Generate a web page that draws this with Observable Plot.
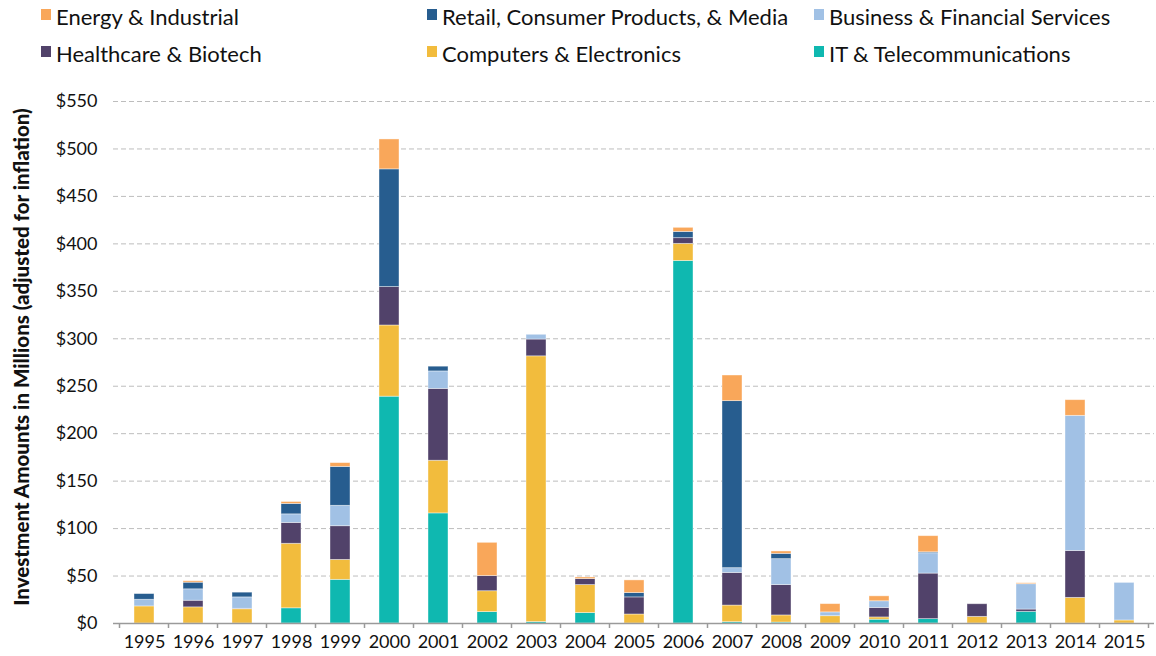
<!DOCTYPE html>
<html>
<head>
<meta charset="utf-8">
<script src="https://cdn.jsdelivr.net/npm/d3@7"></script>
<script src="https://cdn.jsdelivr.net/npm/@observablehq/plot@0.6"></script>
<style>
  body { margin: 0; background: #fff; font-family: Lato, "Open Sans", sans-serif; }
  #legend { position: relative; width: 1156px; height: 80px; }
  .li { position: absolute; font-size: 22px; color: #111; white-space: nowrap; line-height: 26px; }
  .sw { position: absolute; width: 10px; height: 11px; left: -15px; top: 5px; }
</style>
</head>
<body>
<div id="legend"></div>
<div id="chart"></div>
<script>
const years = ["1995","1996","1997","1998","1999","2000","2001","2002","2003","2004","2005","2006","2007","2008","2009","2010","2011","2012","2013","2014","2015"];
const categories = ["IT & Telecommunications","Computers & Electronics","Healthcare & Biotech","Business & Financial Services","Retail, Consumer Products, & Media","Energy & Industrial"];
const colors = ["#0FB8B0","#F2BC3D","#51426A","#A1C1E5","#275D8F","#F9A75A"];
const itTelecom   = [0,0,0,16,46,239,116,12,1.5,11,0,382,1.4,1,0,4,4.6,0,12.3,0,0];
const computers   = [18,17,15,68,21,75,55.5,22,280,29.5,9.5,18,17.5,7.5,7.7,2.4,0,7,0,27,3.2];
const healthcare  = [0,7,0.5,22,35.5,40.5,75.7,16,17.7,6.3,18,6,34.4,32,0,10,48,13.3,2.4,49.4,0];
const business    = [7,12,12,9,21.5,0,18.4,0,5,0,0,0,5,27.3,4,7,21.4,0,26.7,142.4,39.6];
const retail      = [6,7,5,11,41,124,5,0,0,0,4.6,6.6,176,5.6,0,0,1,0,0,0,0];
const energy      = [0,1.5,0,2,4,31.5,0,35,0,1.7,13.3,4.3,27,2.5,8.7,5.2,17,0,1,16.5,0];
const yTicks = [0,50,100,150,200,250,300,350,400,450,500,550];
const yLabel = "Investment Amounts in Millions (adjusted for inflation)";

const series = [itTelecom, computers, healthcare, business, retail, energy];
const rows = [];
years.forEach((y, i) => categories.forEach((c, k) => rows.push({year: y, category: c, value: series[k][i]})));

// legend
const legendOrder = [
  ["Energy & Industrial", 56, 4], ["Retail, Consumer Products, & Media", 442, 4], ["Business & Financial Services", 829, 4],
  ["Healthcare & Biotech", 56, 41], ["Computers & Electronics", 442, 41], ["IT & Telecommunications", 829, 41]
];
const leg = document.getElementById("legend");
legendOrder.forEach(([name, x, y]) => {
  const d = document.createElement("div");
  d.className = "li"; d.style.left = x + "px"; d.style.top = y + "px";
  const s = document.createElement("span");
  s.className = "sw"; s.style.background = colors[categories.indexOf(name)];
  d.appendChild(s); d.appendChild(document.createTextNode(name));
  leg.appendChild(d);
});

const plot = Plot.plot({
  width: 1156,
  height: 576,
  marginLeft: 113,
  marginRight: 2,
  marginTop: 21,
  marginBottom: 33,
  style: {fontFamily: "Lato, 'Open Sans', sans-serif", fontSize: "18px", color: "#111", background: "#fff"},
  x: {domain: years, paddingInner: 0.6, paddingOuter: 0.3, label: null},
  y: {domain: [0, 550], label: null},
  color: {domain: categories, range: colors},
  marks: [
    Plot.gridY(yTicks.filter(d => d > 0), {stroke: "#bdbdbd", strokeOpacity: 1, strokeDasharray: "5,3"}),
    Plot.axisY(yTicks, {tickSize: 0, tickPadding: 16, tickFormat: d => "$" + d, fontSize: 18}),
    Plot.axisX({tickSize: 0, tickPadding: 12, fontSize: 18}),
    Plot.barY(rows, {x: "year", y: "value", fill: "category", order: categories, stroke: "#fff", strokeOpacity: 0.5, strokeWidth: 0.8}),
    Plot.ruleY([0], {stroke: "#9a9a9a", strokeWidth: 1.5})
  ]
});
document.getElementById("chart").appendChild(plot);

// boundary ticks on the category axis and y-axis title
const xs = plot.scale("x");
const ys = plot.scale("y");
const svg = d3.select(plot);
const step = xs.step, bw = xs.bandwidth;
const y0 = ys.apply(0);
const bounds = years.map(y => xs.apply(y) - (step - bw) / 2).concat([xs.apply(years[years.length - 1]) + bw + (step - bw) / 2]);
svg.append("g").selectAll("line").data(bounds).join("line")
  .attr("x1", d => d).attr("x2", d => d).attr("y1", y0).attr("y2", y0 + 5)
  .attr("stroke", "#9a9a9a").attr("stroke-width", 1.5);
svg.append("text")
  .attr("transform", `translate(29,${(ys.apply(0) + ys.apply(550)) / 2 - 5}) rotate(-90)`)
  .attr("text-anchor", "middle")
  .attr("font-weight", "900")
  .attr("font-size", 20.5)
  .attr("fill", "#111")
  .text(yLabel);
</script>
</body>
</html>
